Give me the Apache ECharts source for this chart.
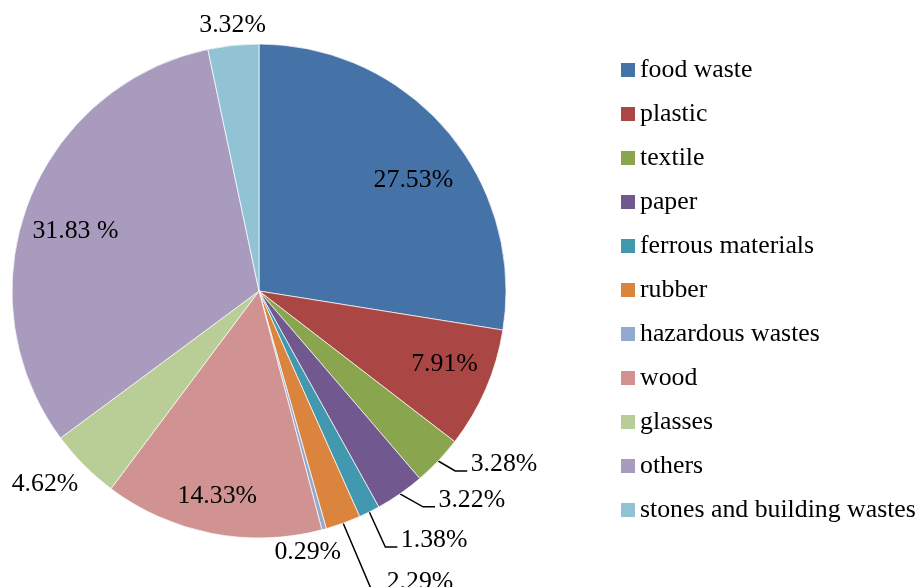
<!DOCTYPE html>
<html><head><meta charset="utf-8">
<script src="https://cdn.jsdelivr.net/npm/echarts@6/dist/echarts.min.js"></script>
<style>html,body{margin:0;padding:0;background:#fff}#c{width:920px;height:587px}</style>
</head><body><div id="c"></div>
<script>
const categories = ['food waste','plastic','textile','paper','ferrous materials','rubber','hazardous wastes','wood','glasses','others','stones and building wastes'];
const values = [27.53, 7.91, 3.28, 3.22, 1.38, 2.29, 0.29, 14.33, 4.62, 31.83, 3.32];
const valueLabels = ['27.53%','7.91%','3.28%','3.22%','1.38%','2.29%','0.29%','14.33%','4.62%','31.83 %','3.32%'];
const colors = ['#4572A7','#AA4643','#89A54E','#71588F','#4198AF','#DB843D','#93A9CF','#D19392','#B9CD96','#A99BBD','#92C3D4'];

// layout (not data)
const CX = 259, CY = 291, R = 247;
const placement = [
  {a: 4.7, r: 0.77},
  {a: -1.85, r: 0.807},
  {line: [17, 10]},
  {line: [23, 13]},
  {line: [16, 35]},
  {line: [28, 66]},
  {a: 4.7, r: 1.075},
  {a: 0.47, r: 0.847},
  {a: 2.8, r: 1.167},
  {a: -2.65, r: 0.782},
  {a: 0.3, r: 1.082}
];

const total = values.reduce((s, v) => s + v, 0);
const mids = []; let acc = 0;
values.forEach(v => { mids.push((acc + v / 2) / total * 360); acc += v; });
function pt(deg, r) { const t = deg * Math.PI / 180; return [CX + r * Math.sin(t), CY - r * Math.cos(t)]; }

const FONT = 'Liberation Serif';
const FS = 25.8;
const chart = echarts.init(document.getElementById('c'), null, {renderer: 'canvas'});
chart.setOption({
  animation: false,
  backgroundColor: '#fff',
  textStyle: {fontFamily: FONT, fontSize: FS},
  legend: {
    orient: 'vertical', left: 621, top: 57, padding: 0,
    itemWidth: 14, itemHeight: 14, itemGap: 18, icon: 'rect',
    itemStyle: {borderWidth: 0},
    textStyle: {fontFamily: FONT, fontSize: FS, color: '#000', lineHeight: 26},
    data: categories
  },
  series: [{
    type: 'pie',
    center: [CX, CY], radius: R,
    startAngle: 90, clockwise: true,
    avoidLabelOverlap: false,
    emphasis: {disabled: true},
    itemStyle: {borderColor: '#fff', borderWidth: 0.7},
    label: {show: true, position: 'outside', color: '#000', fontFamily: FONT, fontSize: FS,
      formatter: p => valueLabels[p.dataIndex]},
    labelLine: {show: true, lineStyle: {color: '#000', width: 1.5}},
    data: categories.map((n, i) => ({
      name: n, value: values[i],
      itemStyle: {color: colors[i]},
      labelLine: {show: !!placement[i].line}
    })),
    labelLayout: function (p) {
      const i = p.dataIndex, pl = placement[i];
      if (pl.line) {
        const e = pt(mids[i], R);
        const el = [e[0] + pl.line[0], e[1] + pl.line[1]];
        const end = [el[0] + 12, el[1]];
        return {x: end[0] + 3.5, y: el[1] - 7, align: 'left', verticalAlign: 'middle', labelLinePoints: [e, el, end]};
      }
      const q = pt(mids[i] + pl.a, pl.r * R);
      return {x: q[0], y: q[1], align: 'center', verticalAlign: 'middle'};
    }
  }]
});
</script>
</body></html>
